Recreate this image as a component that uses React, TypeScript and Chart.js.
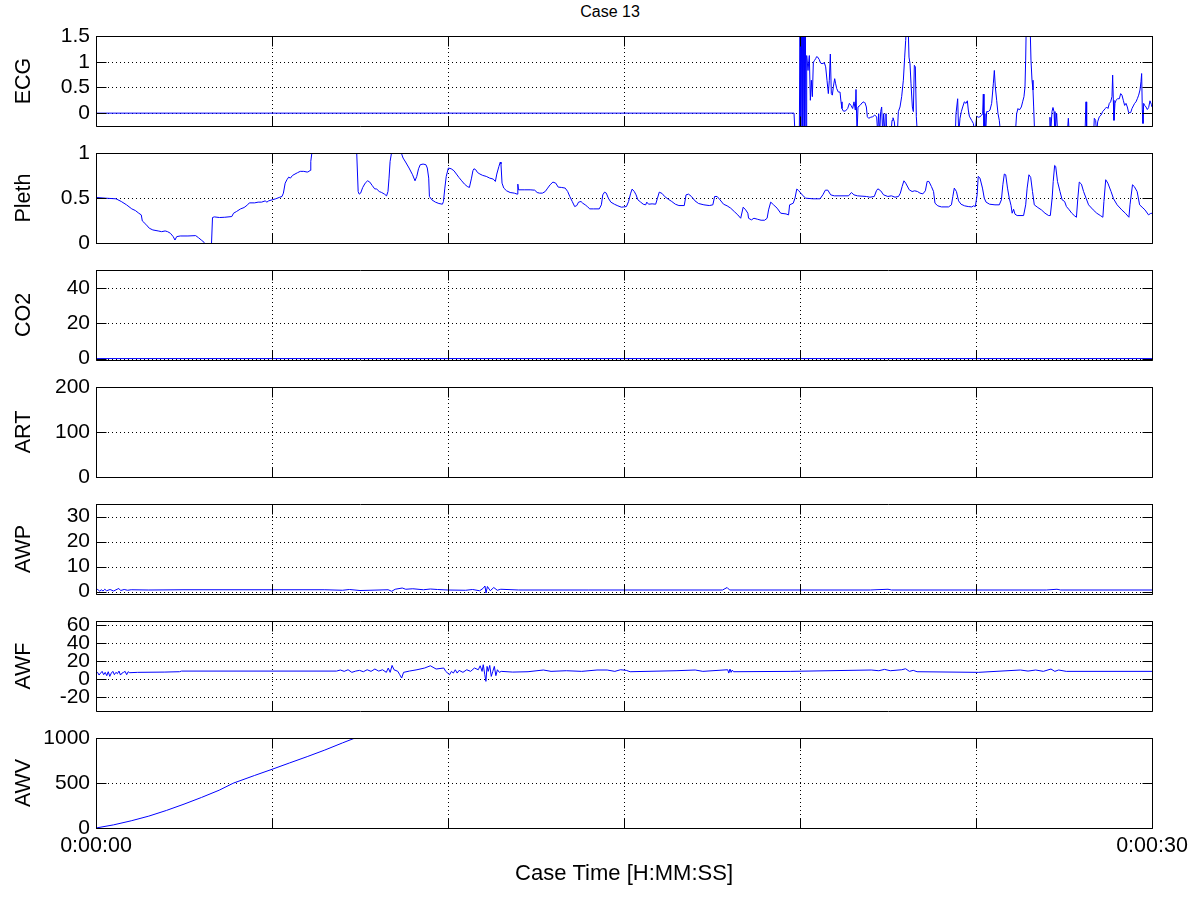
import React, { useEffect, useRef } from "react";
import { Chart, registerables } from "chart.js";

Chart.register(...registerables);

const FONT = '"Liberation Sans", Arial, Helvetica, sans-serif';
const CHART_TITLE = "Case 13";
const X_TITLE = "Case Time [H:MM:SS]";
const X_MIN = 0;
const X_MAX = 30;
const X_GRID = [0, 5, 10, 15, 20, 25, 30];
const X_LABEL_TICKS = [0, 30];
const X_TICK_TEXT = ["0:00:00", "0:00:30"];

const PANEL_NAMES = ["ECG", "Pleth", "CO2", "ART", "AWP", "AWF", "AWV"];
const Y_MIN = [-0.25, 0, -0.8, 0, -1, -35.5, 0];
const Y_MAX = [1.5, 1, 50, 200, 35, 64.4, 1000];
const Y_TICKS = [
  [0, 0.5, 1, 1.5],
  [0, 0.5, 1],
  [0, 20, 40],
  [0, 100, 200],
  [0, 10, 20, 30],
  [-20, 0, 20, 40, 60],
  [0, 500, 1000],
];

// [time s, value]
const ECG: [number, number][] = [
  [0, 0], [19.83, 0], [19.858, -0.4], [19.981, -0.4], [20.0, 1.8], [20.019, -0.4], [20.038, 1.8], [20.057, -0.4],
  [20.066, 1.8], [20.085, -0.4], [20.095, 1.8], [20.114, -0.4], [20.123, 1.8], [20.142, -0.4], [20.152, 1.8],
  [20.171, -0.4], [20.19, 1.12], [20.228, 0.83], [20.265, 1.12], [20.294, 0.25], [20.322, 0.64], [20.351, 0.32],
  [20.379, 0.99], [20.408, 1.02], [20.445, 1.06], [20.474, 1.1], [20.502, 1.09], [20.549, 1.04], [20.578, 0.98],
  [20.625, 0.96], [20.692, 0.98], [20.729, 0.9], [20.767, 0.64], [20.805, 0.38], [20.833, 0.64], [20.862, 1.15],
  [20.89, 0.38], [20.919, 0.35], [20.947, 0.51], [20.985, 0.67], [21.013, 0.57], [21.042, 0.48], [21.089, 0.41],
  [21.137, 0.41], [21.165, 0.22], [21.193, 0.09], [21.231, 0.04], [21.288, 0.04], [21.354, 0.09], [21.402, 0.19],
  [21.449, 0.15], [21.496, 0.09], [21.534, 0.22], [21.572, 0.06], [21.591, 0.46], [21.62, -0.4], [21.648, 0.12],
  [21.705, 0.15], [21.762, 0.2], [21.818, 0.22], [21.847, 0.2], [21.885, 0.12], [21.913, -0.07], [21.951, -0.1],
  [22.008, -0.08], [22.065, -0.07], [22.122, -0.04], [22.178, -0.07], [22.207, -0.4], [22.235, -0.01], [22.264, -0.4],
  [22.292, 0.03], [22.32, 0.12], [22.349, -0.4], [22.377, -0.01], [22.415, -0.4], [22.443, -0.01], [22.462, -0.4],
  [22.585, -0.4], [22.614, -0.14], [22.642, -0.09], [22.68, -0.17], [22.709, -0.4], [22.765, -0.4], [22.794, 0.03],
  [22.841, 0.12], [22.888, 0.32], [22.936, 0.64], [22.974, 1.09], [23.002, 1.41], [23.031, 1.8], [23.068, 1.8],
  [23.097, 1.09], [23.125, 0.96], [23.154, 0.57], [23.192, 0.12], [23.22, 0.03], [23.248, 0.93], [23.277, 0.9],
  [23.305, -0.07], [23.334, -0.4], [24.413, -0.4], [24.432, -0.01], [24.479, 0.28], [24.508, -0.4], [24.546, -0.1],
  [24.584, 0.03], [24.622, 0.12], [24.669, 0.22], [24.716, 0.19], [24.754, 0.24], [24.782, 0.06], [24.811, -0.06],
  [24.876, -0.14], [24.924, -0.2], [24.971, -0.4], [25.019, -0.06], [25.066, -0.08], [25.113, -0.07], [25.161, -0.04],
  [25.189, -0.01], [25.208, 0.37], [25.227, -0.4], [25.255, -0.01], [25.274, -0.4], [25.303, 0.03], [25.35, 0.03],
  [25.397, 0.06], [25.445, 0.19], [25.492, 0.57], [25.521, 0.83], [25.549, 0.51], [25.587, 0.25], [25.625, -0.01],
  [25.662, -0.14], [25.7, -0.4], [26.117, -0.4], [26.155, -0.01], [26.193, 0.09], [26.231, 0.06], [26.288, 0.12],
  [26.325, 0.22], [26.363, 0.32], [26.392, 0.51], [26.411, 1.03], [26.43, 1.8], [26.534, 1.8], [26.562, 1.03],
  [26.591, 0.64], [26.619, 0.45], [26.638, 0.12], [26.666, -0.4], [27.083, -0.4], [27.102, -0.08], [27.121, -0.4],
  [27.159, 0.03], [27.187, 0.11], [27.216, 0.03], [27.244, -0.4], [27.291, -0.01], [27.32, -0.4], [27.594, -0.4],
  [27.623, -0.1], [27.651, -0.4], [28.096, -0.4], [28.125, 0.22], [28.144, -0.4], [28.342, -0.4], [28.361, -0.1],
  [28.399, -0.14], [28.428, -0.4], [28.456, -0.17], [28.503, -0.07], [28.551, -0.04], [28.598, 0.03], [28.636, 0.06],
  [28.674, 0.09], [28.712, 0.12], [28.75, 0.09], [28.787, 0.19], [28.825, 0.22], [28.863, 0.32], [28.882, 0.74],
  [28.901, 0.25], [28.92, -0.14], [28.948, 0.19], [28.977, 0.25], [29.024, 0.28], [29.072, 0.28], [29.11, 0.38],
  [29.147, 0.35], [29.185, 0.25], [29.223, 0.15], [29.261, 0.19], [29.299, 0.12], [29.337, 0.01], [29.394, 0.01],
  [29.431, 0.09], [29.469, 0.14], [29.507, 0.19], [29.545, 0.22], [29.583, 0.28], [29.621, 0.35], [29.659, 0.45],
  [29.687, 0.61], [29.706, 0.77], [29.725, 0.06], [29.744, -0.2], [29.763, 0.19], [29.792, 0.15], [29.83, 0.12],
  [29.867, 0.07], [29.905, 0.11], [29.943, 0.24], [29.981, 0.17], [30, 0.12],
];

const PLETH: [number, number][] = [
  [0, 0.506], [0.269, 0.498], [0.568, 0.491], [0.718, 0.461], [0.867, 0.424], [1.017, 0.379], [1.117, 0.361],
  [1.216, 0.331], [1.286, 0.312], [1.316, 0.245], [1.416, 0.208], [1.515, 0.164], [1.615, 0.145], [1.765, 0.134],
  [1.864, 0.126], [1.964, 0.134], [2.034, 0.126], [2.114, 0.108], [2.193, 0.071], [2.243, 0.033], [2.293, 0.071],
  [2.393, 0.078], [2.612, 0.078], [2.832, 0.082], [2.911, 0.059], [2.991, 0.033], [3.071, 0.007], [3.111, -0.02],
  [3.28, -0.02], [3.31, 0.283], [3.36, 0.29], [3.51, 0.283], [3.659, 0.286], [3.858, 0.294], [3.908, 0.331],
  [3.988, 0.349], [4.108, 0.379], [4.207, 0.394], [4.307, 0.424], [4.357, 0.446], [4.507, 0.446], [4.606, 0.454],
  [4.706, 0.454], [4.806, 0.468], [4.855, 0.454], [4.905, 0.468], [5.005, 0.48], [5.105, 0.491], [5.204, 0.506],
  [5.284, 0.517], [5.324, 0.554], [5.374, 0.665], [5.424, 0.703], [5.474, 0.732], [5.523, 0.721], [5.583, 0.751],
  [5.653, 0.766], [5.723, 0.781], [5.803, 0.796], [5.902, 0.796], [6.002, 0.788], [6.052, 0.796], [6.082, 0.807],
  [6.102, 0.907], [6.132, 1.0], [6.162, 1.093], [6.6, 1.25], [7.0, 1.25], [7.398, 1.093], [7.448, 0.572],
  [7.478, 0.543], [7.518, 0.554], [7.577, 0.617], [7.647, 0.665], [7.717, 0.691], [7.777, 0.677], [7.847, 0.639],
  [7.916, 0.602], [7.976, 0.599], [8.046, 0.572], [8.116, 0.561], [8.195, 0.543], [8.255, 0.524], [8.295, 0.572],
  [8.325, 0.721], [8.355, 0.907], [8.395, 1.0], [8.415, 1.093], [8.53, 1.15], [8.644, 1.093], [8.674, 1.0],
  [8.724, 0.944], [8.794, 0.9], [8.893, 0.833], [8.993, 0.758], [9.063, 0.691], [9.113, 0.74], [9.163, 0.825],
  [9.212, 0.87], [9.292, 0.877], [9.372, 0.87], [9.412, 0.833], [9.452, 0.721], [9.472, 0.517], [9.541, 0.48],
  [9.641, 0.454], [9.741, 0.439], [9.841, 0.431], [9.871, 0.461], [9.91, 0.61], [9.95, 0.74], [10.01, 0.833],
  [10.09, 0.825], [10.169, 0.803], [10.239, 0.766], [10.309, 0.729], [10.389, 0.691], [10.469, 0.654],
  [10.548, 0.628], [10.608, 0.617], [10.668, 0.721], [10.708, 0.803], [10.738, 0.825], [10.788, 0.814],
  [10.837, 0.784], [10.907, 0.766], [10.987, 0.751], [11.087, 0.74], [11.186, 0.721], [11.286, 0.71],
  [11.346, 0.684], [11.386, 0.766], [11.446, 0.851], [11.486, 0.9], [11.505, 0.877], [11.535, 0.665],
  [11.585, 0.61], [11.665, 0.58], [11.765, 0.561], [11.884, 0.554], [11.964, 0.543], [11.984, 0.654],
  [12.004, 0.591], [12.183, 0.591], [12.333, 0.591], [12.463, 0.587], [12.533, 0.561], [12.602, 0.554],
  [12.682, 0.554], [12.762, 0.572], [12.832, 0.61], [12.901, 0.647], [12.981, 0.677], [13.061, 0.665],
  [13.131, 0.621], [13.231, 0.617], [13.33, 0.61], [13.4, 0.572], [13.46, 0.517], [13.53, 0.461], [13.599, 0.405],
  [13.659, 0.416], [13.709, 0.454], [13.779, 0.461], [13.829, 0.442], [13.898, 0.424], [13.958, 0.405],
  [14.028, 0.379], [14.128, 0.379], [14.297, 0.379], [14.357, 0.424], [14.397, 0.535], [14.447, 0.565],
  [14.497, 0.554], [14.556, 0.498], [14.626, 0.454], [14.726, 0.431], [14.826, 0.413], [14.925, 0.398],
  [14.995, 0.401], [15.069, 0.405], [15.13, 0.461], [15.19, 0.554], [15.231, 0.599], [15.292, 0.572],
  [15.343, 0.535], [15.393, 0.48], [15.474, 0.454], [15.546, 0.431], [15.617, 0.424], [15.647, 0.454],
  [15.698, 0.431], [15.799, 0.435], [15.9, 0.431], [15.951, 0.498], [16.002, 0.565], [16.083, 0.55],
  [16.154, 0.517], [16.256, 0.487], [16.357, 0.461], [16.459, 0.431], [16.56, 0.416], [16.712, 0.416],
  [16.763, 0.535], [16.834, 0.543], [16.915, 0.517], [17.017, 0.468], [17.118, 0.439], [17.27, 0.424],
  [17.423, 0.416], [17.524, 0.424], [17.575, 0.517], [17.646, 0.517], [17.727, 0.48], [17.828, 0.431],
  [17.93, 0.413], [18.031, 0.387], [18.133, 0.349], [18.234, 0.312], [18.315, 0.275], [18.386, 0.398],
  [18.457, 0.368], [18.518, 0.331], [18.539, 0.275], [18.62, 0.257], [18.691, 0.275], [18.792, 0.264],
  [18.894, 0.253], [18.995, 0.253], [19.066, 0.275], [19.107, 0.368], [19.168, 0.454], [19.249, 0.424],
  [19.35, 0.387], [19.452, 0.331], [19.604, 0.323], [19.675, 0.312], [19.705, 0.424], [19.807, 0.442],
  [19.858, 0.498], [19.908, 0.599], [19.959, 0.584], [20.061, 0.535], [20.162, 0.498], [20.365, 0.491],
  [20.568, 0.491], [20.649, 0.535], [20.72, 0.587], [20.791, 0.587], [20.872, 0.535], [20.974, 0.524],
  [21.38, 0.524], [21.461, 0.561], [21.532, 0.535], [21.633, 0.524], [21.887, 0.517], [21.988, 0.509],
  [22.11, 0.517], [22.171, 0.58], [22.212, 0.602], [22.293, 0.58], [22.374, 0.535], [22.496, 0.517],
  [22.597, 0.524], [22.699, 0.509], [22.8, 0.517], [22.851, 0.554], [22.902, 0.628], [22.952, 0.691],
  [23.003, 0.665], [23.104, 0.591], [23.185, 0.572], [23.257, 0.58], [23.338, 0.572], [23.409, 0.554],
  [23.49, 0.546], [23.561, 0.58], [23.612, 0.684], [23.662, 0.684], [23.733, 0.628], [23.794, 0.572],
  [23.835, 0.442], [23.916, 0.413], [24.017, 0.401], [24.22, 0.401], [24.302, 0.424], [24.342, 0.517],
  [24.383, 0.61], [24.444, 0.572], [24.505, 0.468], [24.575, 0.431], [24.677, 0.413], [24.779, 0.405],
  [24.88, 0.401], [24.931, 0.413], [24.981, 0.405], [25.032, 0.535], [25.063, 0.74], [25.113, 0.721],
  [25.184, 0.61], [25.235, 0.498], [25.286, 0.454], [25.387, 0.431], [25.539, 0.424], [25.661, 0.424],
  [25.722, 0.48], [25.763, 0.647], [25.804, 0.766], [25.844, 0.758], [25.895, 0.61], [25.945, 0.498],
  [25.996, 0.416], [26.027, 0.331], [26.068, 0.375], [26.108, 0.32], [26.169, 0.305], [26.352, 0.305],
  [26.412, 0.424], [26.453, 0.61], [26.504, 0.758], [26.554, 0.729], [26.605, 0.572], [26.656, 0.424],
  [26.757, 0.394], [26.859, 0.368], [26.96, 0.331], [27.062, 0.305], [27.112, 0.305], [27.163, 0.498],
  [27.194, 0.684], [27.234, 0.862], [27.264, 0.851], [27.315, 0.684], [27.386, 0.572], [27.447, 0.48],
  [27.518, 0.461], [27.569, 0.405], [27.65, 0.368], [27.721, 0.331], [27.792, 0.305], [27.853, 0.286],
  [27.893, 0.498], [27.934, 0.677], [27.995, 0.654], [28.056, 0.572], [28.127, 0.498], [28.198, 0.424],
  [28.33, 0.368], [28.431, 0.331], [28.533, 0.305], [28.604, 0.286], [28.634, 0.461], [28.685, 0.703],
  [28.746, 0.665], [28.837, 0.572], [28.908, 0.491], [29.009, 0.424], [29.141, 0.368], [29.243, 0.331],
  [29.344, 0.286], [29.375, 0.424], [29.446, 0.647], [29.496, 0.628], [29.577, 0.572], [29.648, 0.424],
  [29.719, 0.398], [29.8, 0.368], [29.902, 0.312], [29.953, 0.327], [30, 0.331],
];

const CO2: [number, number][] = [[0, 0], [30, 0]];

const ART: [number, number][] = [];

const AWP: [number, number][] = [
  [0, 0.4], [0.05, 0.9], [0.1, 0.1], [0.15, 0.7], [0.2, 0.2], [0.25, 0.9], [0.3, 0.3], [0.4, 0.8], [0.5, 0.2],
  [0.6, 0.9], [0.65, 1.2], [0.7, 0.4], [0.8, 0.8], [0.9, 0.5], [1.0, 0.7], [1.5, 0.6], [2.5, 0.7], [6.5, 0.7],
  [7.0, 0.5], [7.2, 0.8], [7.5, 0.4], [8.3, 0.7], [8.4, 0.1], [8.5, 0.9], [8.7, 1.4], [8.8, 0.9], [9.0, 1.1],
  [9.3, 0.7], [9.5, 1.0], [9.7, 0.8], [10.0, 0.6], [10.5, 0.5], [10.7, 0.8], [10.9, 0.3], [11.0, 1.3],
  [11.05, 2.2], [11.08, -0.6], [11.12, 2.0], [11.2, 0.3], [11.3, 1.6], [11.4, 0.5], [11.5, 0.9], [12.0, 0.6],
  [14.0, 0.6], [17.8, 0.6], [17.93, 1.6], [18.0, 0.6], [22.0, 0.6], [22.5, 0.9], [22.6, 0.6], [27.0, 0.6],
  [27.3, 0.9], [27.4, 0.6], [30, 0.6],
];

const AWF: [number, number][] = [
  [0, 5.9], [0.044, 7.4], [0.087, 4.4], [0.131, 6.6], [0.174, 8.5], [0.218, 4.8], [0.261, 7.4], [0.305, 3.7],
  [0.348, 8.1], [0.392, 2.9], [0.435, 6.6], [0.479, 8.5], [0.522, 4.8], [0.566, 7.4], [0.609, 5.9], [0.653, 8.8],
  [0.696, 4.4], [0.74, 6.6], [0.783, 7.4], [0.827, 8.5], [0.871, 4.8], [0.914, 8.1], [0.958, 7.0], [1.175, 7.4],
  [1.937, 7.7], [2.372, 8.1], [2.427, 8.8], [6.834, 8.8], [6.942, 10.0], [7.051, 8.5], [7.16, 10.3], [7.269, 7.4],
  [7.378, 8.8], [7.486, 9.6], [7.595, 8.1], [7.704, 10.3], [7.813, 8.5], [7.922, 11.1], [8.031, 8.8],
  [8.139, 10.3], [8.248, 7.4], [8.303, 12.2], [8.357, 7.4], [8.411, 15.1], [8.466, 10.3], [8.575, 8.5],
  [8.629, 4.8], [8.683, 1.1], [8.738, 7.4], [8.901, 8.8], [9.119, 10.3], [9.336, 12.2], [9.499, 14.7],
  [9.663, 11.1], [9.88, 12.2], [9.935, 8.5], [10.044, 4.8], [10.098, 8.5], [10.152, 6.6], [10.207, 10.3],
  [10.261, 6.6], [10.316, 9.6], [10.424, 7.4], [10.533, 10.3], [10.642, 8.5], [10.751, 12.2], [10.86, 10.3],
  [10.914, 14.7], [10.968, 8.5], [11.001, 15.9], [11.045, 4.8], [11.077, -2.6], [11.11, 14.0], [11.143, 8.5],
  [11.186, 15.1], [11.23, 2.9], [11.273, 8.5], [11.317, 14.0], [11.36, 3.7], [11.404, 10.3], [11.458, 7.4],
  [11.512, 8.5], [11.839, 7.7], [12.274, 8.1], [12.71, 10.0], [12.927, 8.5], [13.362, 9.2], [13.798, 8.5],
  [14.233, 10.0], [14.522, 10.0], [14.739, 8.5], [14.902, 10.3], [15.065, 9.6], [15.174, 8.1], [16.478, 9.2],
  [17.022, 10.0], [17.239, 8.5], [17.946, 10.3], [17.978, 6.6], [18.011, 11.1], [18.043, 7.4], [18.076, 10.0],
  [18.109, 8.1], [19.739, 8.5], [22.022, 10.0], [22.239, 9.2], [22.402, 10.7], [22.565, 9.2], [22.891, 10.3],
  [23.0, 11.4], [23.109, 8.5], [23.217, 9.6], [23.326, 8.1], [25.065, 7.4], [26.261, 10.0], [26.478, 8.8],
  [26.696, 10.0], [26.913, 8.5], [27.13, 11.1], [27.239, 8.5], [27.348, 10.0], [27.565, 8.5], [30, 8.5],
];

const AWV: [number, number][] = [
  [0, 0], [0.5, 35], [1.0, 80], [1.5, 132], [2.0, 195], [2.5, 265], [3.0, 340], [3.5, 420], [3.9, 498],
  [4.5, 583], [5.0, 652], [5.5, 723], [6.0, 793], [6.5, 866], [7.0, 945], [7.36, 1000], [8.5, 1170],
];

const SERIES = [ECG, PLETH, CO2, ART, AWP, AWF, AWV];

const matlabAxes = {
  id: "matlabAxes",
  beforeDatasetsDraw(chart: any, _args: any, opts: any) {
    const { ctx, chartArea: a, scales } = chart;
    const x = scales.x;
    const y = scales.y;
    ctx.save();
    ctx.strokeStyle = "#000";
    ctx.lineWidth = 1;
    ctx.setLineDash([1, 3]);
    ctx.beginPath();
    for (const v of opts.yTicks as number[]) {
      const py = Math.round(y.getPixelForValue(v)) + 0.5;
      ctx.moveTo(a.left, py);
      ctx.lineTo(a.right, py);
    }
    for (const v of X_GRID) {
      const px = Math.round(x.getPixelForValue(v)) + 0.5;
      ctx.moveTo(px, a.top);
      ctx.lineTo(px, a.bottom);
    }
    ctx.stroke();
    ctx.restore();
  },
  afterDatasetsDraw(chart: any, _args: any, opts: any) {
    const { ctx, chartArea: a, scales } = chart;
    const x = scales.x;
    const y = scales.y;
    const L = Math.round(a.left) + 0.5;
    const R = Math.round(a.right) + 0.5;
    const T = Math.round(a.top) + 0.5;
    const B = Math.round(a.bottom) + 0.5;
    const len = 10;
    ctx.save();
    ctx.strokeStyle = "#000";
    ctx.lineWidth = 1;
    ctx.setLineDash([]);
    ctx.beginPath();
    ctx.rect(L, T, R - L, B - T);
    for (const v of opts.yTicks as number[]) {
      const py = Math.round(y.getPixelForValue(v)) + 0.5;
      ctx.moveTo(L, py);
      ctx.lineTo(L + len, py);
      ctx.moveTo(R, py);
      ctx.lineTo(R - len, py);
    }
    for (const v of X_GRID) {
      const px = Math.round(x.getPixelForValue(v)) + 0.5;
      ctx.moveTo(px, T);
      ctx.lineTo(px, T + len);
      ctx.moveTo(px, B);
      ctx.lineTo(px, B - len);
    }
    ctx.stroke();
    ctx.restore();
  },
};

const PANEL_TOP0 = 36;
const PANEL_STEP = 117;

function Panel({ idx }: { idx: number }) {
  const ref = useRef<HTMLCanvasElement | null>(null);
  const first = idx === 0;
  const last = idx === PANEL_NAMES.length - 1;
  const areaTop = PANEL_TOP0 + PANEL_STEP * idx;
  const canvasTop = areaTop - 20;
  const height = last ? 900 - canvasTop : 130;

  useEffect(() => {
    if (!ref.current) return;
    const yTicks = Y_TICKS[idx];
    const chart = new Chart(ref.current, {
      type: "line",
      data: {
        datasets: [
          {
            label: PANEL_NAMES[idx],
            data: SERIES[idx].map(([t, v]) => ({ x: t, y: v })),
            borderColor: "#0000ff",
            borderWidth: 1,
            pointRadius: 0,
            pointHoverRadius: 0,
            tension: 0,
            fill: false,
            clip: 0,
          } as any,
        ],
      },
      options: {
        responsive: false,
        animation: false,
        events: [],
        layout: { padding: { left: 0, right: 48, top: 20, bottom: last ? 0 : 20 } },
        plugins: {
          legend: { display: false },
          tooltip: { enabled: false },
          title: { display: false },
          matlabAxes: { yTicks },
        } as any,
        scales: {
          x: {
            type: "linear",
            min: X_MIN,
            max: X_MAX,
            display: last,
            afterBuildTicks: (s: any) => {
              s.ticks = X_LABEL_TICKS.map((v) => ({ value: v }));
            },
            afterFit: (s: any) => {
              if (last) s.height = 72;
            },
            ticks: {
              autoSkip: false,
              maxRotation: 0,
              minRotation: 0,
              padding: 5,
              color: "#000",
              font: { family: FONT, size: 21.5 },
              callback: (_v: any, i: number) => X_TICK_TEXT[i],
            },
            grid: { display: false, drawTicks: false },
            border: { display: false },
            title: {
              display: true,
              text: X_TITLE,
              color: "#000",
              font: { family: FONT, size: 22 },
              padding: { top: 0, bottom: 13 },
            },
          },
          y: {
            type: "linear",
            min: Y_MIN[idx],
            max: Y_MAX[idx],
            afterBuildTicks: (s: any) => {
              s.ticks = yTicks.map((v) => ({ value: v }));
            },
            afterFit: (s: any) => {
              s.width = 96;
            },
            ticks: {
              autoSkip: false,
              padding: 6,
              color: "#000",
              font: { family: FONT, size: 21 },
              callback: (v: any) => String(v),
            },
            grid: { display: false, drawTicks: false },
            border: { display: false },
            title: {
              display: true,
              text: PANEL_NAMES[idx],
              color: "#000",
              font: { family: FONT, size: 21.5 },
              padding: { top: 11, bottom: 0 },
            },
          },
        } as any,
      },
      plugins: [matlabAxes as any],
    });
    return () => chart.destroy();
  }, [idx]);

  return (
    <canvas
      ref={ref}
      width={1200}
      height={height}
      style={{ position: "absolute", left: 0, top: canvasTop, width: 1200, height }}
    />
  );
}

export default function App() {
  return (
    <div style={{ position: "absolute", left: 0, top: 0, width: 1200, height: 900, background: "#fff", overflow: "hidden" }}>
      <div
        style={{
          position: "absolute",
          left: 410,
          top: 2,
          width: 400,
          textAlign: "center",
          fontFamily: FONT,
          fontSize: 16,
          lineHeight: "20px",
          color: "#000",
        }}
      >
        {CHART_TITLE}
      </div>
      {PANEL_NAMES.map((_, i) => (
        <Panel key={i} idx={i} />
      ))}
    </div>
  );
}
